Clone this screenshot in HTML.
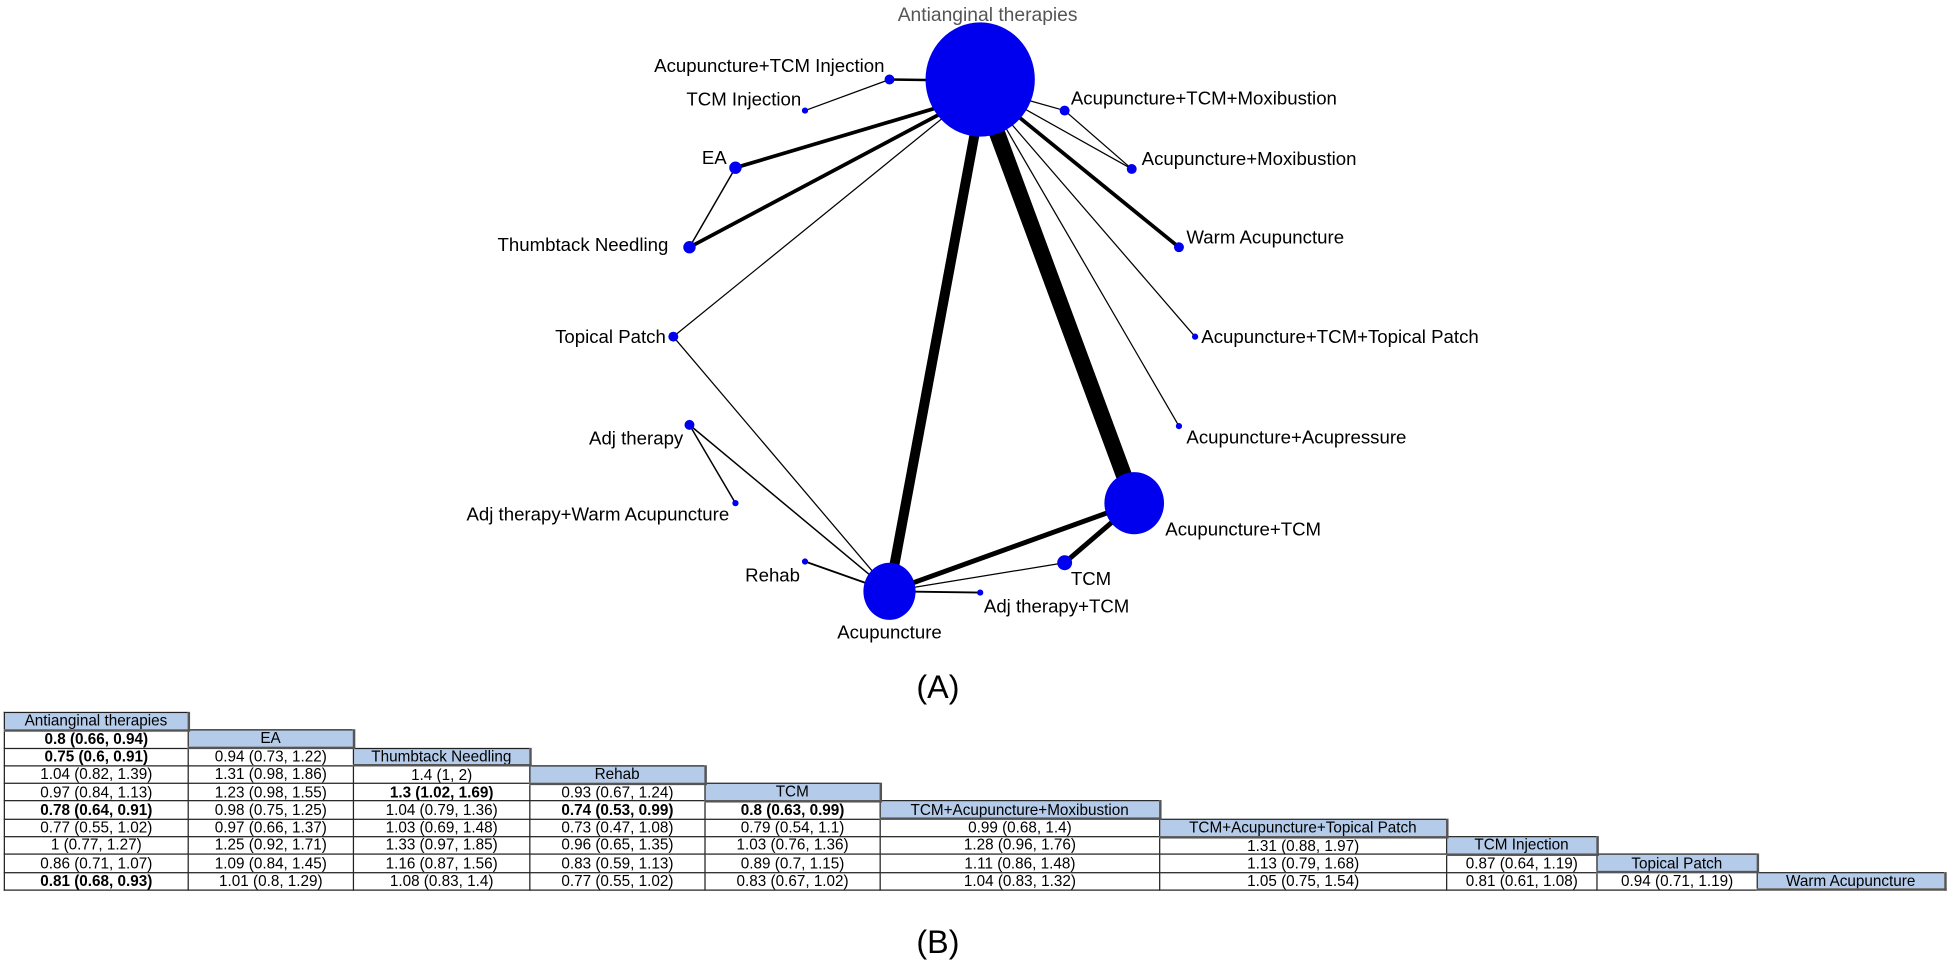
<!DOCTYPE html>
<html><head><meta charset="utf-8"><style>
html,body{margin:0;padding:0;background:#fff;width:1948px;height:964px;overflow:hidden}
#w{position:absolute;left:0;top:0;width:1568px;height:776px;transform:scale(1.2423);transform-origin:0 0;font-family:"Liberation Sans",sans-serif}
svg{position:absolute;left:0;top:0}
table{position:absolute;left:3px;top:573px;border-collapse:collapse;table-layout:fixed;font-size:12.3px}
td{height:12.8px;padding:0;line-height:12.5px;text-align:center;white-space:nowrap;overflow:hidden}
td.d{border:1px solid #222}
td.h{border:1px solid #222;border-right:2px solid #555;border-bottom:2px solid #555;background:#b4cbe9}
td.b{font-weight:bold}
</style></head><body><div id="w">
<svg width="1568" height="776" viewBox="0 0 1568 776" font-family="Liberation Sans, sans-serif" font-size="15">
<g stroke="#000" fill="none" stroke-linecap="butt">
<line x1="789" y1="65" x2="716" y2="64" stroke-width="2"/>
<line x1="648" y1="89" x2="716" y2="64" stroke-width="1"/>
<line x1="760" y1="85" x2="592" y2="135" stroke-width="3"/>
<line x1="592" y1="135" x2="555" y2="199" stroke-width="1.2"/>
<line x1="760" y1="90" x2="555" y2="199" stroke-width="3"/>
<line x1="765" y1="90" x2="542" y2="271" stroke-width="1"/>
<line x1="542" y1="271" x2="716" y2="476" stroke-width="1"/>
<line x1="786" y1="100" x2="716" y2="476" stroke-width="8"/>
<line x1="800" y1="100" x2="913" y2="405" stroke-width="13"/>
<line x1="805" y1="95" x2="949" y2="343" stroke-width="1"/>
<line x1="810" y1="95" x2="962" y2="271" stroke-width="1"/>
<line x1="815" y1="90" x2="949" y2="199" stroke-width="3"/>
<line x1="820" y1="85" x2="911" y2="136" stroke-width="1"/>
<line x1="825" y1="80" x2="857" y2="89" stroke-width="1"/>
<line x1="857" y1="89" x2="911" y2="136" stroke-width="1"/>
<line x1="555" y1="342" x2="716" y2="476" stroke-width="1.2"/>
<line x1="555" y1="342" x2="592" y2="405" stroke-width="1.2"/>
<line x1="648" y1="452" x2="716" y2="476" stroke-width="1.5"/>
<line x1="716" y1="476" x2="913" y2="405" stroke-width="4"/>
<line x1="913" y1="405" x2="857" y2="453" stroke-width="4"/>
<line x1="857" y1="453" x2="716" y2="476" stroke-width="1"/>
<line x1="716" y1="476" x2="789" y2="477" stroke-width="1.5"/>
</g>
<g fill="#0000ee">
<ellipse cx="789" cy="64" rx="44" ry="46"/>
<circle cx="716" cy="64" r="4"/>
<circle cx="648" cy="89" r="2.5"/>
<circle cx="592" cy="135" r="5"/>
<circle cx="555" cy="199" r="5"/>
<circle cx="542" cy="271" r="4"/>
<circle cx="555" cy="342" r="4"/>
<circle cx="592" cy="405" r="2.5"/>
<circle cx="648" cy="452" r="2.5"/>
<ellipse cx="716" cy="476" rx="21" ry="23"/>
<circle cx="789" cy="477" r="2.5"/>
<circle cx="857" cy="453" r="6"/>
<ellipse cx="913" cy="405" rx="24" ry="25"/>
<circle cx="949" cy="343" r="2.5"/>
<circle cx="962" cy="271" r="2.5"/>
<circle cx="949" cy="199" r="4"/>
<circle cx="911" cy="136" r="4"/>
<circle cx="857" cy="89" r="4"/>
</g>
<text x="795" y="17" text-anchor="middle" fill="#555" font-size="15.5">Antianginal therapies</text>
<g fill="#000">
<text x="712" y="58" text-anchor="end">Acupuncture+TCM Injection</text>
<text x="645" y="85" text-anchor="end">TCM Injection</text>
<text x="585" y="132" text-anchor="end">EA</text>
<text x="538" y="202" text-anchor="end">Thumbtack Needling</text>
<text x="536" y="276" text-anchor="end">Topical Patch</text>
<text x="550" y="358" text-anchor="end">Adj therapy</text>
<text x="587" y="419" text-anchor="end">Adj therapy+Warm Acupuncture</text>
<text x="644" y="468" text-anchor="end">Rehab</text>
<text x="716" y="514" text-anchor="middle">Acupuncture</text>
<text x="792" y="493">Adj therapy+TCM</text>
<text x="862" y="471">TCM</text>
<text x="938" y="431">Acupuncture+TCM</text>
<text x="955" y="357">Acupuncture+Acupressure</text>
<text x="967" y="276">Acupuncture+TCM+Topical Patch</text>
<text x="955" y="196">Warm Acupuncture</text>
<text x="919" y="133">Acupuncture+Moxibustion</text>
<text x="862" y="84">Acupuncture+TCM+Moxibustion</text>
<text x="755" y="562" text-anchor="middle" font-size="26">(A)</text>
<text x="755" y="767" text-anchor="middle" font-size="26">(B)</text>
</g>
</svg>
<table>
<colgroup><col style="width:148px"><col style="width:133px"><col style="width:142px"><col style="width:141px"><col style="width:141px"><col style="width:225px"><col style="width:231px"><col style="width:121px"><col style="width:129px"><col style="width:151px"></colgroup>
<tr><td class="h">Antianginal therapies</td><td></td><td></td><td></td><td></td><td></td><td></td><td></td><td></td><td></td></tr>
<tr><td class="d b">0.8 (0.66, 0.94)</td><td class="h">EA</td><td></td><td></td><td></td><td></td><td></td><td></td><td></td><td></td></tr>
<tr><td class="d b">0.75 (0.6, 0.91)</td><td class="d">0.94 (0.73, 1.22)</td><td class="h">Thumbtack Needling</td><td></td><td></td><td></td><td></td><td></td><td></td><td></td></tr>
<tr><td class="d">1.04 (0.82, 1.39)</td><td class="d">1.31 (0.98, 1.86)</td><td class="d">1.4 (1, 2)</td><td class="h">Rehab</td><td></td><td></td><td></td><td></td><td></td><td></td></tr>
<tr><td class="d">0.97 (0.84, 1.13)</td><td class="d">1.23 (0.98, 1.55)</td><td class="d b">1.3 (1.02, 1.69)</td><td class="d">0.93 (0.67, 1.24)</td><td class="h">TCM</td><td></td><td></td><td></td><td></td><td></td></tr>
<tr><td class="d b">0.78 (0.64, 0.91)</td><td class="d">0.98 (0.75, 1.25)</td><td class="d">1.04 (0.79, 1.36)</td><td class="d b">0.74 (0.53, 0.99)</td><td class="d b">0.8 (0.63, 0.99)</td><td class="h">TCM+Acupuncture+Moxibustion</td><td></td><td></td><td></td><td></td></tr>
<tr><td class="d">0.77 (0.55, 1.02)</td><td class="d">0.97 (0.66, 1.37)</td><td class="d">1.03 (0.69, 1.48)</td><td class="d">0.73 (0.47, 1.08)</td><td class="d">0.79 (0.54, 1.1)</td><td class="d">0.99 (0.68, 1.4)</td><td class="h">TCM+Acupuncture+Topical Patch</td><td></td><td></td><td></td></tr>
<tr><td class="d">1 (0.77, 1.27)</td><td class="d">1.25 (0.92, 1.71)</td><td class="d">1.33 (0.97, 1.85)</td><td class="d">0.96 (0.65, 1.35)</td><td class="d">1.03 (0.76, 1.36)</td><td class="d">1.28 (0.96, 1.76)</td><td class="d">1.31 (0.88, 1.97)</td><td class="h">TCM Injection</td><td></td><td></td></tr>
<tr><td class="d">0.86 (0.71, 1.07)</td><td class="d">1.09 (0.84, 1.45)</td><td class="d">1.16 (0.87, 1.56)</td><td class="d">0.83 (0.59, 1.13)</td><td class="d">0.89 (0.7, 1.15)</td><td class="d">1.11 (0.86, 1.48)</td><td class="d">1.13 (0.79, 1.68)</td><td class="d">0.87 (0.64, 1.19)</td><td class="h">Topical Patch</td><td></td></tr>
<tr><td class="d b">0.81 (0.68, 0.93)</td><td class="d">1.01 (0.8, 1.29)</td><td class="d">1.08 (0.83, 1.4)</td><td class="d">0.77 (0.55, 1.02)</td><td class="d">0.83 (0.67, 1.02)</td><td class="d">1.04 (0.83, 1.32)</td><td class="d">1.05 (0.75, 1.54)</td><td class="d">0.81 (0.61, 1.08)</td><td class="d">0.94 (0.71, 1.19)</td><td class="h">Warm Acupuncture</td></tr>
</table>
</div></body></html>
